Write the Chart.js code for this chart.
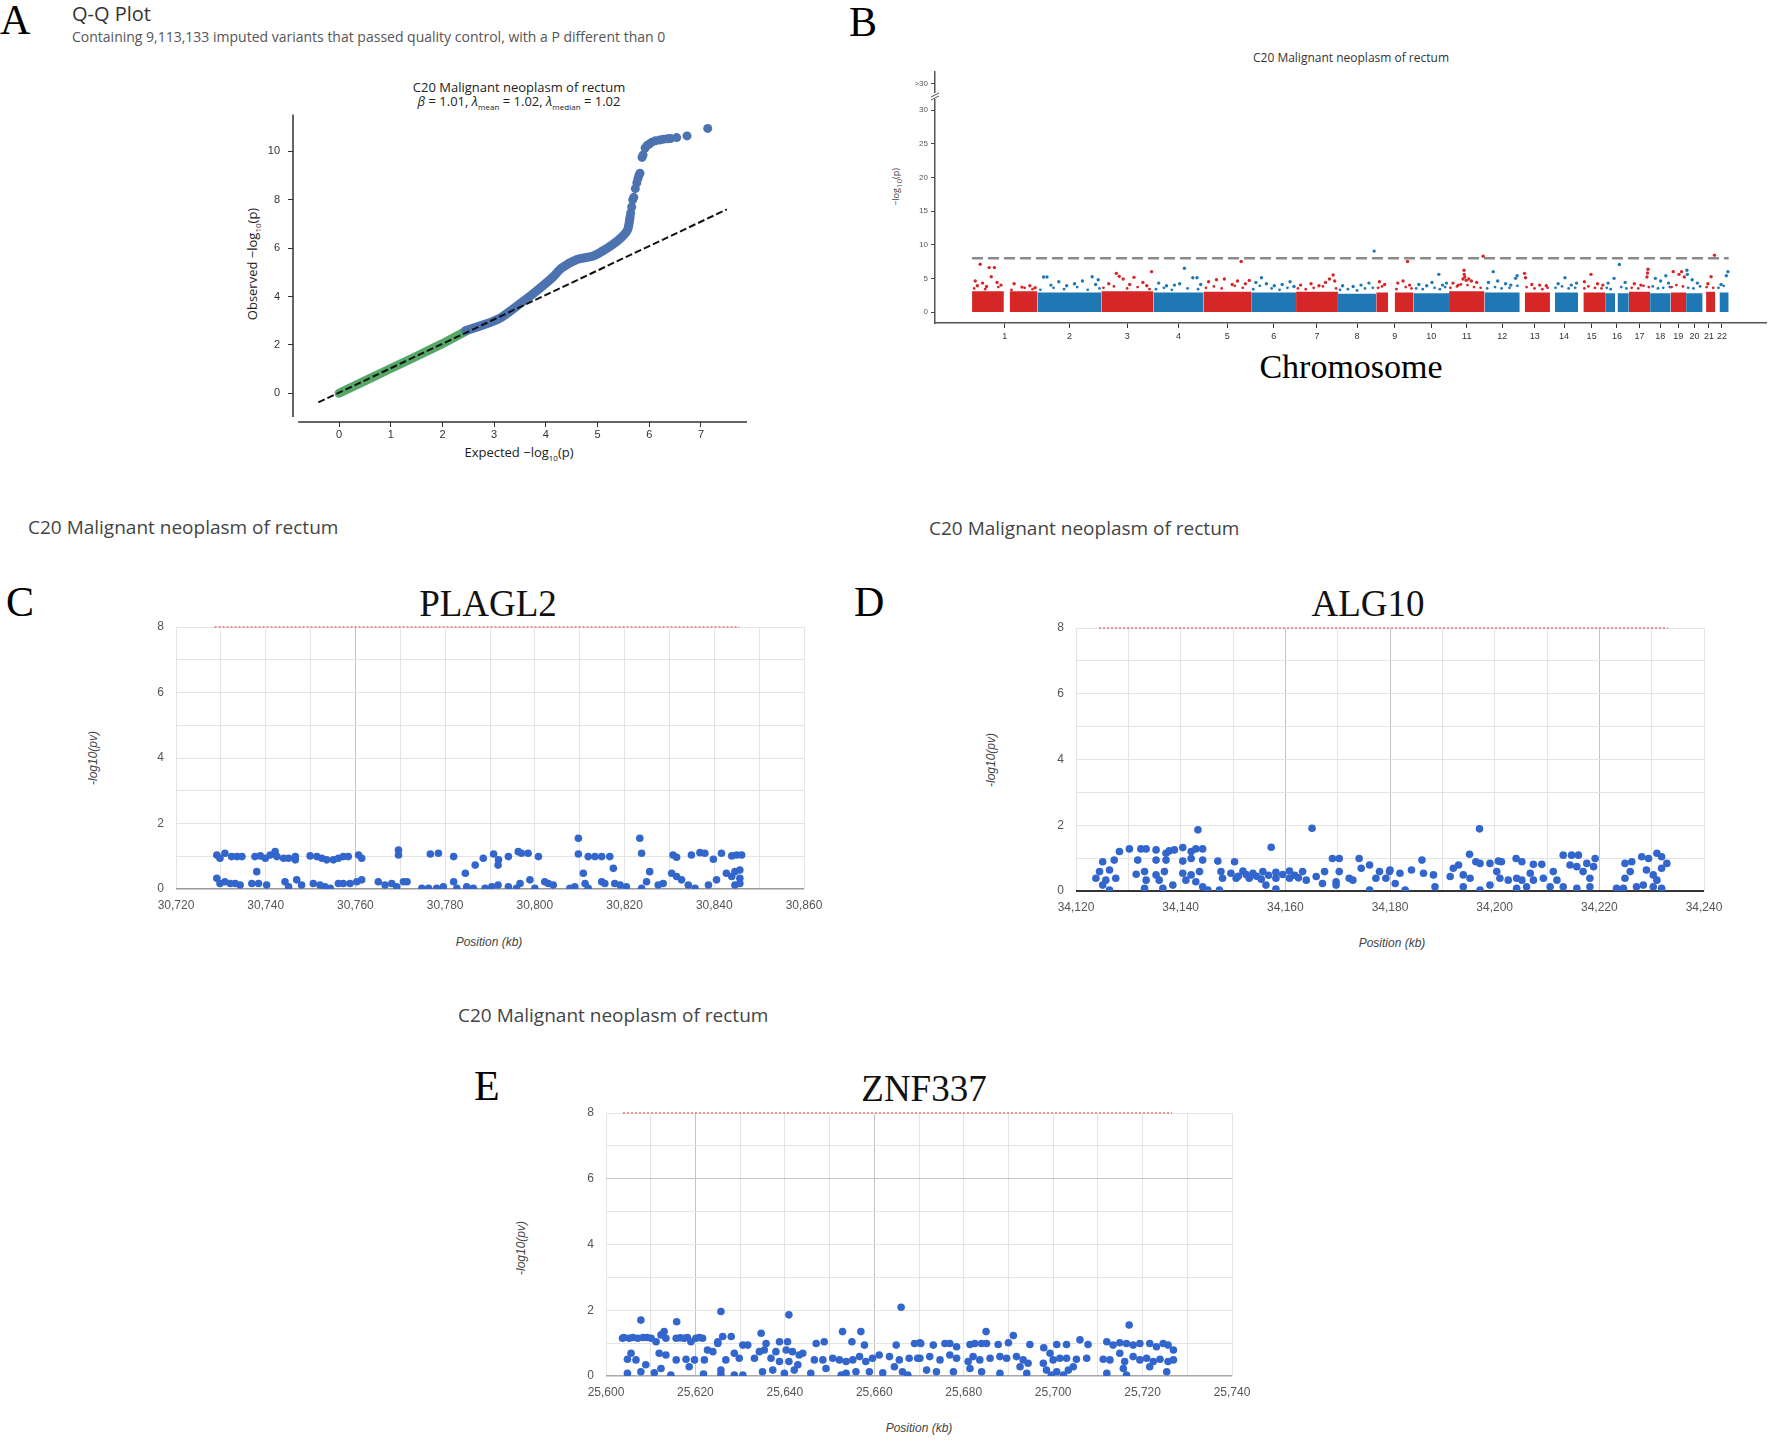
<!DOCTYPE html>
<html>
<head>
<meta charset="utf-8">
<script src="https://cdn.jsdelivr.net/npm/chart.js@4.4.1/dist/chart.umd.min.js"></script>
<style>
  body { margin:0; width:1770px; height:1441px; background:#fff; position:relative; overflow:hidden; font-family:'Open Sans', sans-serif; }
  canvas { position:absolute; }
  .t { position:absolute; white-space:nowrap; line-height:1; }
  .c { transform:translate(-50%, -50%); }
  .l { transform:translate(0, -50%); }
  .rot { transform:translate(-50%, -50%) rotate(-90deg); }
  .letter { font-family:'Liberation Serif', serif; font-size:42px; color:#000; }
  .gene { font-family:'Liberation Serif', serif; font-size:37px; color:#111; }
  .hdr { font-size:19px; color:#444; }
  .gax { font-family:'Liberation Sans', Arial, sans-serif; font-style:italic; font-size:12px; color:#444; }
  .qq { font-size:13px; color:#222; }
  sub { font-size:8px; }
</style>
</head>
<body>
<!-- panel A -->
<div class="t l letter" style="left:0;top:20px">A</div>
<div class="t l" style="left:72px;top:14px;font-size:20px;color:#333">Q-Q Plot</div>
<div class="t l" style="left:72px;top:37px;font-size:14px;color:#555">Containing 9,113,133 imputed variants that passed quality control, with a P different than 0</div>
<div class="t c qq" style="left:519px;top:87px">C20 Malignant neoplasm of rectum</div>
<div class="t c qq" style="left:519px;top:103px"><i>β</i> = 1.01, <i>λ</i><sub>mean</sub> = 1.02, <i>λ</i><sub>median</sub> = 1.02</div>
<div class="t rot qq" style="left:254px;top:264px">Observed −log<sub>10</sub>(p)</div>
<div class="t c qq" style="left:519px;top:454px">Expected −log<sub>10</sub>(p)</div>
<canvas id="cA" width="600" height="360" style="left:200px;top:100px"></canvas>

<!-- panel B -->
<div class="t l letter" style="left:849px;top:22px">B</div>
<div class="t c" style="left:1351px;top:58px;font-size:12px;color:#333">C20 Malignant neoplasm of rectum</div>
<div class="t rot" style="left:897px;top:187px;font-size:9px;color:#444">−log<sub>10</sub>(p)</div>
<div class="t c" style="left:1351px;top:367px;font-family:'Liberation Serif', serif;font-size:34px;color:#000">Chromosome</div>
<canvas id="cB" width="900" height="320" style="left:870px;top:40px"></canvas>

<!-- panel C -->
<div class="t l hdr" style="left:28px;top:527px">C20 Malignant neoplasm of rectum</div>
<div class="t l letter" style="left:6px;top:602px">C</div>
<div class="t c gene" style="left:488px;top:603px">PLAGL2</div>
<div class="t rot gax" style="left:93px;top:758px">-log10(pv)</div>
<div class="t c gax" style="left:489px;top:942px">Position (kb)</div>
<canvas id="cC" width="740" height="320" style="left:100px;top:600px"></canvas>

<!-- panel D -->
<div class="t l hdr" style="left:929px;top:528px">C20 Malignant neoplasm of rectum</div>
<div class="t l letter" style="left:854px;top:602px">D</div>
<div class="t c gene" style="left:1368px;top:603px">ALG10</div>
<div class="t rot gax" style="left:991px;top:760px">-log10(pv)</div>
<div class="t c gax" style="left:1392px;top:943px">Position (kb)</div>
<canvas id="cD" width="740" height="320" style="left:1000px;top:600px"></canvas>

<!-- panel E -->
<div class="t l hdr" style="left:458px;top:1015px">C20 Malignant neoplasm of rectum</div>
<div class="t l letter" style="left:474px;top:1086px">E</div>
<div class="t c gene" style="left:924px;top:1088px">ZNF337</div>
<div class="t rot gax" style="left:521px;top:1248px">-log10(pv)</div>
<div class="t c gax" style="left:919px;top:1428px">Position (kb)</div>
<canvas id="cE" width="740" height="320" style="left:530px;top:1085px"></canvas>

<script>
// ---- Q-Q plot data (expected, observed -log10 p)
const qqXTicks = [0, 1, 2, 3, 4, 5, 6, 7];
const qqYTicks = [0, 2, 4, 6, 8, 10];
const qqDiag = [[-0.4, -0.38], [7.5, 7.6]];
const qqGreen = [[0, 0], [0.5, 0.51], [1.0, 1.02], [1.5, 1.53], [2.0, 2.05], [2.45, 2.56]];
const qqCurve = [[2.45, 2.59], [2.84, 2.86], [3.14, 3.14], [3.53, 3.75], [3.82, 4.23], [4.12, 4.77],
  [4.31, 5.18], [4.6, 5.53], [4.9, 5.66], [5.09, 5.87], [5.29, 6.14], [5.48, 6.48], [5.58, 6.75], [5.63, 7.3]];
const qqTop = [[5.64, 7.45], [5.66, 7.7], [5.68, 8.0], [5.7, 8.1], [5.73, 8.46], [5.76, 8.7], [5.78, 8.87],
  [5.8, 9.0], [5.82, 9.1], [5.86, 9.75], [5.88, 9.85], [5.92, 10.14], [5.96, 10.25], [6.0, 10.3],
  [6.05, 10.38], [6.12, 10.44], [6.2, 10.47], [6.27, 10.5], [6.35, 10.52], [6.41, 10.53], [6.53, 10.57],
  [6.73, 10.64], [7.13, 10.95]];

// ---- Manhattan data (GRCh37 lengths, Mb)
const chromNames = ['1','2','3','4','5','6','7','8','9','10','11','12','13','14','15','16','17','18','19','20','21','22'];
const chromLengthsMb = [249, 243, 198, 191, 181, 171, 159, 146, 141, 136, 135, 134, 115, 107, 103, 90, 81, 78, 59, 63, 48, 51];
const chromDataStart = [0, 0, 0, 0, 0, 0, 0, 0, 0, 0, 0, 0, 19, 19, 20, 0, 0, 0, 0, 0, 13, 16];
const chromGaps = [[121, 143], null, null, null, null, null, null, null, [45, 70], null, null, null, null, null, null, [38, 47], null, null, null, null, null, null];
const chromBandTop = [3.1, 2.9, 3.1, 2.9, 3.0, 2.9, 3.0, 2.7, 2.9, 2.8, 3.1, 2.9, 2.9, 2.9, 2.9, 2.8, 3.0, 2.8, 2.9, 2.8, 3.0, 2.9];
const manhPeaks = [
  [31, 7.1], [65, 6.6], [85, 6.6], [73, 5.25], [12, 4.6], [40, 4.3], [95, 4.4], [20, 3.9], [55, 3.8], [110, 4.0], [160, 4.2], [190, 3.7], [220, 3.9], [240, 3.6],
  [272, 5.2], [285, 5.2], [300, 4.0], [330, 4.5], [360, 3.9], [390, 4.2], [420, 4.6], [457, 5.25], [470, 4.1], [480, 4.8],
  [549, 5.75], [560, 5.3], [575, 4.9], [616, 5.15], [683, 6.0], [520, 4.2], [600, 4.1], [650, 4.4], [665, 3.9],
  [808, 6.5], [840, 5.1], [856, 5.1], [710, 4.3], [740, 3.9], [770, 4.0], [790, 4.2], [870, 4.1],
  [1024, 7.5], [900, 4.5], [930, 4.8], [960, 4.9], [990, 4.1], [1010, 4.6], [1040, 4.2], [1055, 4.7],
  [1101, 5.1], [1080, 4.4], [1120, 4.2], [1150, 3.9], [1180, 4.1], [1210, 4.5], [1225, 3.8],
  [1374, 5.5], [1360, 4.9], [1380, 4.6], [1250, 4.0], [1290, 4.2], [1320, 3.9], [1345, 4.4],
  [1530, 9.05], [1410, 3.9], [1450, 3.8], [1480, 4.0], [1510, 4.3],
  [1657, 7.5], [1550, 4.5], [1570, 4.1], [1620, 4.3], [1640, 4.6], [1665, 4.0],
  [1776, 5.6], [1700, 4.1], [1730, 3.9], [1750, 4.4], [1790, 4.0], [1805, 4.3],
  [1872, 6.2], [1873, 5.6], [1875, 5.2], [1868, 4.9], [1880, 4.7], [1890, 4.9], [1900, 4.6], [1830, 4.3], [1850, 4.0], [1920, 4.4], [1945, 8.3],
  [1983, 6.0], [2074, 5.4], [2068, 5.0], [1965, 4.4], [2000, 4.6], [2030, 4.2], [2050, 4.0],
  [2102, 5.75], [2106, 5.1], [2130, 4.1], [2160, 4.0], [2185, 3.9],
  [2256, 5.1], [2230, 4.2], [2280, 4.0], [2300, 4.3],
  [2355, 5.6], [2330, 4.5], [2380, 4.2], [2400, 4.0],
  [2463, 7.05], [2443, 5.0], [2420, 4.3], [2485, 4.4],
  [2572, 6.35], [2570, 5.8], [2568, 5.2], [2520, 4.2], [2545, 4.0],
  [2600, 5.0], [2620, 4.6], [2640, 5.4], [2650, 4.3],
  [2668, 6.0], [2690, 5.6], [2700, 6.0], [2710, 5.2],
  [2720, 6.2], [2722, 5.6], [2740, 4.8], [2760, 4.3],
  [2825, 8.45], [2812, 5.25], [2800, 4.2],
  [2876, 6.0], [2870, 5.4], [2850, 4.1]
];
// speckle just above the dense band
const manhSpeckle = [
  [8, 3.5], [50, 3.4], [100, 3.7], [150, 3.3], [200, 3.6], [230, 3.4],
  [260, 3.3], [310, 3.6], [350, 3.4], [400, 3.7], [440, 3.3], [485, 3.5],
  [500, 3.6], [540, 3.8], [590, 3.5], [630, 3.7], [675, 3.4],
  [700, 3.4], [730, 3.6], [760, 3.3], [820, 3.5], [860, 3.4],
  [890, 3.6], [920, 3.8], [950, 3.5], [1000, 3.9], [1030, 3.6],
  [1070, 3.4], [1095, 3.9], [1140, 3.5], [1170, 3.3], [1200, 3.6],
  [1240, 3.5], [1270, 3.4], [1300, 3.6], [1335, 3.8], [1385, 3.5],
  [1400, 3.3], [1430, 3.4], [1465, 3.2], [1495, 3.5], [1525, 3.6],
  [1545, 3.6], [1560, 3.8], [1615, 3.4], [1650, 3.7], [1672, 3.5],
  [1690, 3.5], [1715, 3.4], [1760, 3.6], [1780, 3.4], [1800, 3.7],
  [1820, 3.6], [1845, 3.8], [1860, 4.1], [1885, 4.0], [1910, 3.7], [1935, 3.6],
  [1960, 3.5], [1990, 3.7], [2015, 3.5], [2045, 3.6], [2075, 3.9],
  [2110, 3.7], [2140, 3.5], [2170, 3.4], [2190, 3.6],
  [2220, 3.6], [2245, 3.8], [2270, 3.5], [2295, 3.6],
  [2330, 3.5], [2345, 3.8], [2370, 3.6], [2395, 3.5],
  [2415, 3.6], [2430, 3.4], [2470, 3.7], [2490, 3.5],
  [2510, 3.6], [2535, 3.5], [2555, 3.9], [2575, 3.7],
  [2590, 3.8], [2610, 3.5], [2630, 3.6], [2655, 3.7],
  [2662, 3.7], [2680, 4.0], [2705, 3.8],
  [2725, 3.6], [2745, 3.5], [2770, 3.8],
  [2795, 3.7], [2820, 3.6],
  [2840, 3.6], [2860, 3.9]
];
const manhThreshold = 8;
const manhYTicks = [0, 5, 10, 15, 20, 25, 30];
const manhCapValue = 33.9;   // position of the ">30" tick

// ---- regional plots (position kb, -log10 pv)
const regionThreshold = 8;
const plagl2Points = [
  [30729.1,1.04],[30729.8,0.94],[30730.9,1.09],[30732.4,0.99],[30733.6,0.99],[30734.7,0.99],[30737.6,0.99],[30738.8,1.01],
  [30739.9,0.94],[30741.0,1.04],[30742.1,1.14],[30742.5,0.99],[30744.0,0.94],[30745.1,0.94],[30746.6,0.89],[30746.6,0.99],
  [30749.9,1.01],[30751.4,0.99],[30752.5,0.94],[30753.6,0.89],[30755.1,0.89],[30756.2,0.94],[30757.3,0.99],[30758.4,0.99],
  [30760.7,1.04],[30761.4,0.94],[30769.6,1.19],[30769.6,1.04],[30776.7,1.07],[30778.5,1.09],[30781.9,0.99],[30786.7,0.73],
  [30788.5,0.94],[30790.8,1.07],[30791.9,0.89],
  [30729.1,0.33],[30729.8,0.17],[30730.9,0.22],[30732.1,0.17],[30733.2,0.17],[30734.3,0.12],[30736.9,0.17],[30738.0,0.53],
  [30738.4,0.17],[30740.2,0.12],[30744.3,0.22],[30745.1,0.07],[30746.9,0.28],[30748.0,0.12],[30750.6,0.17],[30752.1,0.12],
  [30753.2,0.07],[30754.4,0.02],[30756.2,0.17],[30757.3,0.17],[30758.8,0.17],[30760.3,0.22],[30761.4,0.28],[30765.1,0.22],
  [30766.6,0.12],[30768.1,0.17],[30769.2,0.07],[30770.7,0.22],[30771.5,0.22],[30774.8,0.02],[30776.3,0.02],[30778.1,0.02],
  [30779.6,0.07],[30781.9,0.22],[30782.6,0.02],[30784.5,0.48],[30784.8,0.07],[30786.3,0.02],[30788.9,0.02],[30790.4,0.07],
  [30791.8,0.73],[30794.1,0.99],[30796.3,1.14],[30797.0,1.09],[30798.5,1.09],[30800.8,0.99],[30809.7,1.55],[30809.7,1.07],
  [30811.9,0.99],[30813.4,0.99],[30814.9,0.99],[30816.7,0.99],[30823.4,1.55],[30823.8,1.09],[30830.8,1.04],[30831.6,0.97],
  [30834.9,1.04],[30836.8,1.11],[30837.9,1.09],[30839.8,0.91],[30841.6,1.09],[30843.9,1.01],[30845.0,1.04],[30846.1,1.04],
  [30791.8,0.12],[30794.1,0.07],[30795.9,0.02],[30796.7,0.17],[30798.9,0.28],[30800.0,0.02],[30802.2,0.22],[30803.0,0.17],
  [30804.1,0.12],[30807.8,0.02],[30808.9,0.07],[30810.8,0.48],[30811.2,0.17],[30811.9,0.02],[30814.9,0.22],[30815.6,0.17],
  [30817.5,0.63],[30817.8,0.17],[30819.0,0.12],[30820.4,0.07],[30823.8,0.02],[30824.9,0.22],[30825.6,0.53],[30827.5,0.12],
  [30828.6,0.17],[30830.5,0.48],[30831.6,0.38],[30832.7,0.28],[30834.2,0.12],[30835.7,0.02],[30838.7,0.12],[30840.5,0.28],
  [30842.7,0.48],[30843.9,0.38],[30844.6,0.53],[30845.7,0.58],[30845.7,0.33],[30845.7,0.17],[30844.6,0.12]
];
const alg10Points = [
  [34143.3,1.86],[34165.1,1.91],[34157.3,1.33],
  [34128.3,1.20],[34130.2,1.28],[34132.4,1.28],[34133.4,1.28],[34135.3,1.25],[34137.2,1.15],[34137.8,1.22],[34138.8,1.25],
  [34140.4,1.32],[34142.0,1.20],[34142.9,1.28],[34144.2,1.28],
  [34125.1,0.89],[34127.3,0.94],[34131.8,0.94],[34135.3,0.94],[34137.2,0.94],[34140.4,0.91],[34142.0,0.99],[34144.2,0.94],
  [34147.1,0.91],[34150.3,0.89],
  [34124.5,0.59],[34126.4,0.64],[34131.5,0.51],[34133.1,0.59],[34135.3,0.49],[34136.9,0.59],[34140.4,0.54],[34142.0,0.49],
  [34143.6,0.59],[34147.7,0.59],[34149.6,0.54],[34151.9,0.61],[34153.8,0.54],[34155.7,0.59],[34158.2,0.57],[34160.8,0.61],
  [34163.3,0.59],[34165.9,0.44],[34167.5,0.59],[34169.0,0.99],[34170.3,0.99],[34170.3,0.59],[34172.2,0.39],[34174.1,0.99],
  [34174.5,0.69],[34176.1,0.79],[34178.0,0.59],[34179.9,0.59],
  [34151.0,0.45],[34152.5,0.50],[34154.5,0.45],[34156.8,0.48],[34159.5,0.50],[34161.8,0.48],[34162.5,0.40],
  [34123.8,0.39],[34125.7,0.33],[34127.6,0.39],[34133.4,0.33],[34135.9,0.33],[34141.0,0.33],[34142.9,0.28],[34148.0,0.39],
  [34150.6,0.39],[34153.1,0.39],[34155.4,0.36],[34158.2,0.39],[34160.8,0.39],[34164.0,0.33],[34169.7,0.28],[34172.9,0.33],
  [34177.3,0.39],[34179.2,0.39],
  [34126.4,0.03],[34133.1,0.08],[34136.6,0.08],[34145.2,0.03],[34147.4,0.03],[34158.2,0.06],[34169.7,0.18],[34176.1,0.03],
  [34125.1,0.18],[34138.5,0.18],[34144.2,0.13],[34156.3,0.18],[34167.1,0.23],
  [34197.1,1.89],
  [34195.2,1.12],[34196.4,0.89],[34197.2,0.84],[34199.1,0.84],[34200.7,0.91],[34201.3,0.89],[34204.1,0.99],[34205.2,0.89],
  [34207.4,0.81],[34209.0,0.81],[34213.1,1.09],[34214.7,1.09],[34216.0,1.09],[34214.4,0.79],[34215.7,0.74],[34217.6,0.84],
  [34219.2,0.99],[34218.9,0.74],[34224.9,0.84],[34226.2,0.89],[34228.1,1.04],[34229.4,0.99],[34231.0,1.15],[34231.9,1.04],
  [34232.9,0.84],
  [34180.0,0.64],[34181.9,0.54],[34184.1,0.64],[34186.1,0.94],[34186.4,0.54],[34188.3,0.49],[34191.5,0.44],[34192.1,0.69],
  [34193.1,0.79],[34194.0,0.49],[34195.3,0.39],[34200.4,0.59],[34201.0,0.39],[34202.6,0.33],[34204.2,0.39],[34205.2,0.33],
  [34206.8,0.54],[34207.4,0.33],[34209.3,0.39],[34211.2,0.59],[34211.9,0.33],[34216.9,0.59],[34218.2,0.39],[34224.9,0.39],
  [34225.9,0.59],[34229.0,0.64],[34230.3,0.49],[34231.0,0.33],[34231.9,0.69],
  [34181.0,0.23],[34182.9,0.03],[34188.6,0.13],[34194.0,0.13],[34197.2,0.03],[34199.1,0.18],[34204.2,0.08],[34206.1,0.13],
  [34210.6,0.13],[34213.1,0.13],[34215.7,0.08],[34218.2,0.13],[34223.3,0.08],[34224.6,0.08],[34227.1,0.13],[34228.4,0.18],
  [34230.3,0.13],[34231.9,0.08]
];
const znf337Points = [
  [25607.8,1.70],[25615.8,1.65],[25625.7,1.96],[25640.9,1.86],[25666.0,2.09],
  [25603.7,1.15],[25604.0,1.17],[25605.2,1.15],[25606.0,1.17],[25607.1,1.15],[25608.3,1.17],[25609.2,1.17],[25610.1,1.15],
  [25611.2,1.04],[25612.3,1.25],[25613.0,1.35],[25613.4,1.15],[25615.7,1.15],[25616.6,1.16],[25617.5,1.15],[25618.2,1.17],
  [25619.0,1.04],[25620.1,1.15],[25620.9,1.17],[25621.6,1.15],[25625.0,1.04],[25626.1,1.20],[25628.0,1.20],[25630.6,0.94],
  [25631.7,0.94],[25634.7,1.30],[25635.8,0.99],[25638.8,1.04],[25640.6,1.04],[25647.0,0.99],[25648.8,1.04],[25652.9,1.35],
  [25655.0,1.04],[25657.0,1.35],[25657.8,0.94],[25664.9,0.94],[25669.0,0.99],[25670.4,0.99],
  [25605.6,0.69],[25604.8,0.51],[25606.7,0.49],[25611.9,0.69],[25613.4,0.64],[25615.7,0.49],[25617.9,0.51],[25619.8,0.49],
  [25622.0,0.49],[25622.7,0.79],[25623.9,0.74],[25625.0,0.99],[25626.8,0.49],[25628.7,0.69],[25629.8,0.54],[25633.2,0.54],
  [25634.3,0.74],[25635.4,0.79],[25636.9,0.54],[25638.0,0.74],[25638.8,0.44],[25640.3,0.79],[25640.9,0.44],[25641.7,0.74],
  [25643.2,0.64],[25644.0,0.69],[25646.6,0.49],[25648.5,0.49],[25650.7,0.54],[25652.2,0.49],[25653.7,0.44],[25655.2,0.49],
  [25656.7,0.59],[25658.1,0.44],[25659.6,0.54],[25661.1,0.64],[25663.4,0.59],[25665.6,0.49],[25667.8,0.54],[25669.7,0.54],
  [25604.8,0.08],[25607.8,0.13],[25608.9,0.34],[25610.8,0.10],[25612.3,0.23],[25614.5,0.03],[25618.6,0.28],[25621.8,0.06],
  [25625.7,0.18],[25625.7,0.06],[25628.7,0.03],[25630.6,0.03],[25635.0,0.13],[25637.3,0.18],[25639.9,0.08],[25642.1,0.18],
  [25642.9,0.34],[25645.8,0.08],[25649.2,0.23],[25652.6,0.03],[25653.7,0.08],[25655.9,0.13],[25658.9,0.13],[25661.9,0.10],
  [25664.5,0.28],[25666.3,0.13],[25667.5,0.03],
  [25717.0,1.55],[25685.0,1.35],[25691.1,1.23],
  [25670.2,1.01],[25673.2,0.94],[25675.8,0.99],[25676.9,0.99],[25678.4,0.89],[25681.4,0.96],[25682.5,0.99],[25684.0,0.99],
  [25685.1,0.99],[25687.7,0.96],[25690.0,1.01],[25694.8,0.96],[25697.9,0.86],[25700.8,0.96],[25703.0,0.96],[25706.0,1.10],
  [25707.8,0.96],[25712.0,1.04],[25713.4,0.94],[25714.9,1.01],[25716.4,0.99],[25717.9,0.94],[25719.4,0.99],[25721.6,0.99],
  [25723.1,0.89],[25724.6,0.99],[25725.7,0.94],[25726.9,0.79],
  [25670.2,0.54],[25672.4,0.59],[25674.7,0.49],[25676.9,0.64],[25678.4,0.54],[25681.0,0.44],[25682.1,0.59],[25683.6,0.49],
  [25685.9,0.54],[25688.1,0.59],[25689.6,0.54],[25691.8,0.59],[25693.3,0.49],[25694.4,0.39],[25697.8,0.39],[25699.3,0.69],
  [25700.0,0.49],[25701.5,0.54],[25703.0,0.54],[25705.2,0.51],[25707.5,0.54],[25711.2,0.51],[25712.7,0.49],[25714.9,0.69],
  [25716.0,0.44],[25717.9,0.59],[25719.4,0.49],[25720.9,0.54],[25722.4,0.44],[25723.9,0.51],[25725.7,0.44],[25726.9,0.49],
  [25671.7,0.18],[25673.9,0.13],[25677.7,0.13],[25681.4,0.23],[25684.0,0.13],[25688.1,0.08],[25692.6,0.28],[25694.1,0.08],
  [25698.5,0.18],[25699.6,0.03],[25700.8,0.13],[25702.3,0.03],[25703.4,0.18],[25704.5,0.28],[25712.0,0.08],[25715.7,0.23],
  [25716.4,0.03],[25721.6,0.28],[25725.4,0.13]
];

Chart.defaults.font.family = "'Liberation Sans', Arial, sans-serif";
Chart.defaults.color = '#444';
Chart.defaults.animation = false;
Chart.defaults.plugins.legend.display = false;
Chart.defaults.plugins.tooltip.enabled = false;

const xy = arr => arr.map(p => ({ x: p[0], y: p[1] }));
const MANH_RED = '#d62728';
const MANH_BLUE = '#1f77b4';
const GOOGLE_BLUE = '#3366cc';

// ---------- A: Q-Q plot
const qqAxes = {
  id: 'qqAxes',
  afterDraw(chart) {
    const { ctx, chartArea: a, scales: { x, y } } = chart;
    ctx.save();
    ctx.strokeStyle = '#333';
    ctx.lineWidth = 1.5;
    ctx.beginPath();
    ctx.moveTo(a.left, a.top);
    ctx.lineTo(a.left, y.getPixelForValue(-0.98));
    ctx.moveTo(x.getPixelForValue(-0.79), a.bottom);
    ctx.lineTo(a.right, a.bottom);
    ctx.stroke();
    ctx.restore();
  }
};

new Chart(document.getElementById('cA'), {
  type: 'scatter',
  data: {
    datasets: [
      { type: 'line', data: xy(qqDiag), borderColor: '#111', borderWidth: 2, borderDash: [7, 3], pointRadius: 0, order: 0 },
      { data: xy(qqTop), pointRadius: 4.5, pointBackgroundColor: '#4c72b0', pointBorderWidth: 0, order: 1 },
      { type: 'line', data: xy(qqCurve), borderColor: '#4c72b0', borderWidth: 9, borderCapStyle: 'round', borderJoinStyle: 'round', tension: 0.3, pointRadius: 0, order: 2 },
      { type: 'line', data: xy(qqGreen), borderColor: '#55a868', borderWidth: 9, borderCapStyle: 'round', pointRadius: 0, order: 3 }
    ]
  },
  options: {
    responsive: false, devicePixelRatio: 1,
    layout: { padding: { left: 0, top: 12, right: 53, bottom: 0 } },
    scales: {
      x: {
        type: 'linear', min: -0.89, max: 7.89,
        afterFit: s => { s.height = 38; },
        afterBuildTicks: s => { s.ticks = qqXTicks.map(v => ({ value: v })); },
        grid: { drawOnChartArea: false, tickLength: 5, color: '#333' },
        border: { display: false },
        ticks: { padding: 1, font: { size: 11 }, color: '#333' }
      },
      y: {
        min: -1.19, max: 11.52,
        afterFit: s => { s.width = 93; },
        afterBuildTicks: s => { s.ticks = qqYTicks.map(v => ({ value: v })); },
        grid: { drawOnChartArea: false, tickLength: 5, color: '#333' },
        border: { display: false },
        ticks: { padding: 8, font: { size: 11 }, color: '#333' }
      }
    }
  },
  plugins: [qqAxes]
});

// ---------- B: Manhattan plot
const chromStarts = [];
let genomeMb = 0;
chromLengthsMb.forEach(len => { chromStarts.push(genomeMb); genomeMb += len; });
const chromMid = chromStarts.map((s, i) => s + chromLengthsMb[i] / 2);
const chromColor = i => (i % 2 === 0 ? MANH_RED : MANH_BLUE);
const chromOf = pos => { let i = 0; while (i < chromStarts.length - 1 && pos >= chromStarts[i + 1]) i++; return i; };
const byChrom = ctx => chromColor(chromOf(ctx.raw ? ctx.raw.x : 0));

const manhSets = [];
chromLengthsMb.forEach((len, i) => {
  const s = chromStarts[i] + chromDataStart[i];
  const e = chromStarts[i] + len;
  const gap = chromGaps[i];
  const parts = gap ? [[s, chromStarts[i] + gap[0]], [chromStarts[i] + gap[1], e]] : [[s, e]];
  parts.forEach(([a, b]) => {
    manhSets.push({
      type: 'line',
      data: [{ x: a, y: chromBandTop[i] }, { x: b, y: chromBandTop[i] }],
      fill: 'origin', backgroundColor: chromColor(i), borderColor: chromColor(i), borderWidth: 0,
      pointRadius: 0, order: 5
    });
  });
});
manhSets.push({ data: xy(manhSpeckle), pointRadius: 1.4, pointBorderWidth: 0, pointBackgroundColor: byChrom, order: 3 });
manhSets.push({ data: xy(manhPeaks), pointRadius: 1.7, pointBorderWidth: 0, pointBackgroundColor: byChrom, order: 2 });
manhSets.push({
  type: 'line', data: [{ x: 0, y: manhThreshold }, { x: genomeMb, y: manhThreshold }],
  borderColor: '#8a8a8a', borderWidth: 2.5, borderDash: [11, 5], pointRadius: 0, order: 1
});

const axisBreak = {
  id: 'axisBreak',
  afterDraw(chart) {
    const { ctx, chartArea: a, scales: { y } } = chart;
    const py = y.getPixelForValue(32.1);
    ctx.save();
    ctx.fillStyle = '#fff';
    ctx.fillRect(a.left - 3, py - 3, 6, 6);
    ctx.strokeStyle = '#555';
    ctx.lineWidth = 1;
    ctx.beginPath();
    ctx.moveTo(a.left - 4, py + 1); ctx.lineTo(a.left + 4, py - 3);
    ctx.moveTo(a.left - 4, py + 4); ctx.lineTo(a.left + 4, py);
    ctx.stroke();
    ctx.restore();
  }
};

new Chart(document.getElementById('cB'), {
  type: 'scatter',
  data: { datasets: manhSets },
  options: {
    responsive: false, devicePixelRatio: 1,
    layout: { padding: { left: 0, top: 32, right: 4, bottom: 0 } },
    scales: {
      x: {
        type: 'linear', min: -141, max: 3021,
        afterFit: s => { s.height = 37; },
        afterBuildTicks: s => { s.ticks = chromMid.map(v => ({ value: v })); },
        grid: { drawOnChartArea: false, tickLength: 5, color: '#333' },
        border: { display: true, color: '#555', width: 1.5 },
        ticks: { padding: 3, font: { size: 9 }, color: '#333', autoSkip: false, maxRotation: 0,
          callback: (v, i) => chromNames[i] }
      },
      y: {
        min: -1.63, max: 35.66,
        afterFit: s => { s.width = 65; },
        afterBuildTicks: s => { s.ticks = manhYTicks.concat([manhCapValue]).map(v => ({ value: v })); },
        grid: { drawOnChartArea: false, tickLength: 4, color: '#444' },
        border: { display: true, color: '#555', width: 1.5 },
        ticks: { padding: 3, font: { size: 8 }, color: '#555',
          callback: v => (v > 31 ? '>30' : v) }
      }
    }
  },
  plugins: [axisBreak]
});

// ---------- C/D/E: regional plots
function regionChart(id, pts, xMin, xMax, thrFrom, thrTo, look, area) {
  return new Chart(document.getElementById(id), {
    type: 'scatter',
    data: {
      datasets: [
        { type: 'line', data: [{ x: thrFrom, y: regionThreshold }, { x: thrTo, y: regionThreshold }],
          borderColor: '#e0766b', borderWidth: 1.5, borderDash: [2, 2], pointRadius: 0, clip: false, order: 0 },
        { data: xy(pts), pointRadius: 3.8, pointBackgroundColor: GOOGLE_BLUE, pointBorderWidth: 0, order: 1 }
      ]
    },
    options: {
      responsive: false, devicePixelRatio: 1,
      layout: { padding: { left: 0, top: area.T, right: area.R, bottom: 0 } },
      scales: {
        x: {
          type: 'linear', min: xMin, max: xMax,
          afterFit: s => { s.height = area.H; },
          grid: { drawTicks: false,
            color: c => (look.darkX.includes(c.tick.value) ? '#c4c4c4' : '#e4e4e4') },
          border: { display: false },
          ticks: { stepSize: 10, padding: 9, autoSkip: false, maxRotation: 0, font: { size: 12 }, color: '#555',
            callback: v => (v % 20 === 0 ? v.toLocaleString('en-US') : '') }
        },
        y: {
          min: 0, max: 8,
          afterFit: s => { s.width = area.W; },
          grid: { drawTicks: false,
            color: c => (c.tick.value === 0 ? look.base : (look.darkY.includes(c.tick.value) ? '#c4c4c4' : '#e4e4e4')),
            lineWidth: c => (c.tick.value === 0 ? look.baseWidth : 1) },
          border: { display: false },
          ticks: { stepSize: 1, padding: 12, autoSkip: false, font: { size: 12 }, color: '#555',
            callback: v => (v % 2 === 0 ? v : '') }
        }
      }
    }
  });
}

regionChart('cC', plagl2Points, 30720, 30860, 30728.6, 30845.6,
  { darkX: [30760], darkY: [], base: '#9a9a9a', baseWidth: 1.5 }, { W: 76, T: 27, R: 36, H: 31 });
regionChart('cD', alg10Points, 34120, 34240, 34124.4, 34233.1,
  { darkX: [34160, 34180, 34220], darkY: [], base: '#333', baseWidth: 2 }, { W: 76, T: 28, R: 36, H: 29 });
regionChart('cE', znf337Points, 25600, 25740, 25603.8, 25726.6,
  { darkX: [25620, 25660], darkY: [6], base: '#a8a8a8', baseWidth: 1.5 }, { W: 76, T: 28, R: 38, H: 29 });
</script>
</body>
</html>
